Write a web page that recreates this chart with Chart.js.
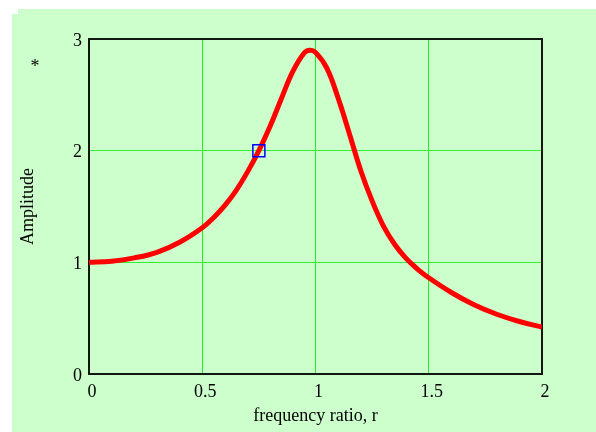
<!DOCTYPE html>
<html>
<head>
<meta charset="utf-8">
<script src="https://cdn.jsdelivr.net/npm/chart.js@4/dist/chart.umd.min.js"></script>
<style>
  html, body { margin: 0; padding: 0; background: #ffffff; }
  #wrap { width: 596px; height: 432px; position: relative; }
</style>
</head>
<body>
<div id="wrap"><canvas id="c" width="596" height="432"></canvas></div>
<script>
// frequency ratio r (x) and amplitude (y)
const rValues = [0, 0.1, 0.2, 0.3, 0.4, 0.5, 0.55, 0.6, 0.65, 0.7, 0.75, 0.8, 0.85, 0.9, 0.95, 0.975, 1.0, 1.05, 1.1, 1.15, 1.2, 1.25, 1.3, 1.35, 1.4, 1.45, 1.5, 1.6, 1.7, 1.8, 1.9, 2.0];
const amplitudeValues = [1.00, 1.01, 1.04, 1.09, 1.18, 1.31, 1.40, 1.51, 1.645, 1.81, 2.00, 2.22, 2.47, 2.71, 2.875, 2.90, 2.88, 2.74, 2.47, 2.15, 1.82, 1.55, 1.325, 1.16, 1.035, 0.94, 0.862, 0.73, 0.62, 0.535, 0.47, 0.42];
// marked point
const markerR = [0.75];
const markerAmp = [2.0];
// tick values
const xTickValues = [0, 0.5, 1, 1.5, 2];
const yTickValues = [0, 1, 2, 3];
const xAxisTitle = 'frequency ratio, r';
const yAxisTitle = 'Amplitude';
const cornerMark = '*';

const serif = "'Liberation Serif', 'Times New Roman', serif";

const bgPlugin = {
  id: 'bg',
  beforeDraw(chart) {
    const ctx = chart.ctx;
    ctx.save();
    ctx.fillStyle = '#CCFFCC';
    ctx.fillRect(18, 9, 578, 5);
    ctx.fillRect(12, 14, 584, 418);
    ctx.restore();
  },
  beforeDatasetsDraw(chart) {
    const ctx = chart.ctx;
    const a = chart.chartArea;
    ctx.save();
    ctx.strokeStyle = '#101810';
    ctx.lineWidth = 2;
    ctx.strokeRect(a.left, a.top, a.right - a.left, a.bottom - a.top);
    ctx.restore();
  },
  afterDraw(chart) {
    const ctx = chart.ctx;
    ctx.save();
    ctx.fillStyle = '#000';
    ctx.font = '18px ' + serif;
    ctx.textAlign = 'center';
    ctx.textBaseline = 'middle';
    ctx.fillText(cornerMark, 35, 67);
    ctx.restore();
  }
};

new Chart(document.getElementById('c'), {
  type: 'line',
  data: {
    datasets: [
      {
        data: rValues.map((r, i) => ({ x: r, y: amplitudeValues[i] })),
        borderColor: '#FF0000',
        borderWidth: 5,
        pointRadius: 0,
        fill: false,
        tension: 0.4,
        order: 2
      },
      {
        data: markerR.map((r, i) => ({ x: r, y: markerAmp[i] })),
        showLine: false,
        pointStyle: 'rect',
        pointRadius: 8.5,
        pointBorderColor: '#0000FF',
        pointBackgroundColor: 'rgba(0,0,0,0)',
        pointBorderWidth: 1.5,
        order: 1
      }
    ]
  },
  options: {
    responsive: false,
    animation: false,
    devicePixelRatio: 1,
    layout: { padding: { left: 0, right: 54, top: 39, bottom: 0 } },
    plugins: { legend: { display: false }, tooltip: { enabled: false } },
    scales: {
      x: {
        type: 'linear',
        min: 0, max: 2,
        afterBuildTicks(scale) { scale.ticks = xTickValues.map(v => ({ value: v })); },
        afterFit(scale) { scale.height = 58; },
        grid: { color: '#22EE22', lineWidth: 1, drawTicks: false },
        border: { display: false },
        ticks: { color: '#000', font: { family: serif, size: 18 }, padding: 7, labelOffset: 3, maxRotation: 0, callback: v => String(v) },
        title: { display: true, text: xAxisTitle, color: '#000', font: { family: serif, size: 18 }, padding: { top: 0, bottom: 5 } }
      },
      y: {
        type: 'linear',
        min: 0, max: 3,
        afterBuildTicks(scale) { scale.ticks = yTickValues.map(v => ({ value: v })); },
        afterFit(scale) { scale.width = 89; },
        grid: { color: '#33EE33', lineWidth: 1, drawTicks: false },
        border: { display: false },
        ticks: { color: '#000', font: { family: serif, size: 18 }, padding: 7, labelOffset: 2, callback: v => String(v) },
        title: { display: true, text: yAxisTitle, color: '#000', font: { family: serif, size: 18 }, padding: { top: 17, bottom: 0 } }
      }
    }
  },
  plugins: [bgPlugin]
});
</script>
</body>
</html>
